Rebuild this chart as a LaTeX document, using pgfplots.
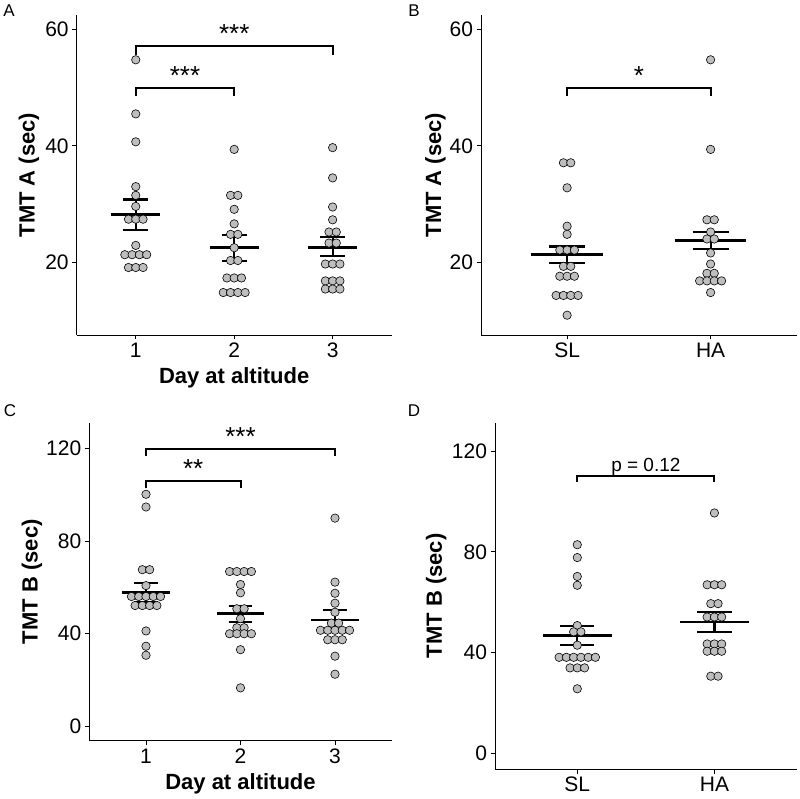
\documentclass[border=0pt]{standalone}
\usepackage{fontspec}
\setmainfont{Liberation Sans}
\usepackage{pgfplots}
\pgfplotsset{compat=1.18}
\definecolor{dotgray}{RGB}{190,190,190}
\pgfplotsset{
 panel/.style={
  scale only axis, axis lines*=left, axis line style={line width=0.9pt,-},
  tick align=outside, major tick length=4.5pt, tick style={line width=0.9pt, black},
  ticklabel style={font=\fontsize{21}{21}\selectfont},
  /pgf/number format/assume math mode=true,
  label style={font=\bfseries\fontsize{22}{22}\selectfont},
  clip=false,
 },
 dots/.style={only marks, mark=*, mark size=4.2pt, mark options={fill=dotgray, draw=black, line width=0.6pt}},
 msl/.style={black, line width=2.8pt},
 sel/.style={black, line width=2.2pt},
 br/.style={black, line width=2pt},
}
\tikzset{
 sigst/.style={anchor=base, yshift=3.5pt, font=\fontsize{26}{26}\selectfont},
 pval/.style={anchor=base, yshift=4pt, font=\fontsize{19}{19}\selectfont},
 plab/.style={font=\fontsize{17}{17}\selectfont},
}
\begin{document}
\begin{tikzpicture}[x=1pt,y=1pt]
\path[use as bounding box] (0,0) rectangle (800,798);
\node[plab] at (9,787) {A};
\node[plab] at (414,787) {B};
\node[plab] at (10,387) {C};
\node[plab] at (414,387) {D};

% ---------------- A
\begin{axis}[panel, at={(76.7pt,463pt)}, anchor=south west, width=315pt, height=320pt,
 xmin=0.4, xmax=3.6, ymin=7.5, ymax=62.5, xtick={1,2,3}, ytick={20,40,60},
 ylabel={TMT A (sec)}, xlabel={Day at altitude},
 ylabel style={at={(axis description cs:-0.152,0.5)}, anchor=center, rotate=0},
 xlabel style={at={(axis description cs:0.5,0)}, anchor=base, yshift=-49pt}]
\addplot[dots] coordinates {(1,54.8) (1,45.5) (1,40.7) (1,33.0) (1,31.5) (1,29.6) (0.926,27.4)(1,27.4)(1.074,27.4) (1,22.9) (0.889,21.3)(0.963,21.3)(1.037,21.3)(1.111,21.3) (0.926,19.1)(1,19.1)(1.074,19.1)};
\addplot[dots] coordinates {(2,39.4) (1.963,31.5)(2.037,31.5) (2,29.1) (2,26.6) (1.963,24.8)(2.037,24.8) (2,22.5) (1.963,20.3)(2.037,20.3) (1.926,17.3)(2,17.3)(2.074,17.3) (1.889,14.8)(1.963,14.8)(2.037,14.8)(2.111,14.8)};
\addplot[dots] coordinates {(3,39.7) (3,34.5) (3,29.5) (3,27.3) (2.963,25.2)(3.037,25.2) (2.963,23.3)(3.037,23.3) (2.926,19.7)(3,19.7)(3.074,19.7) (2.926,16.8)(3,16.8)(3.074,16.8) (2.926,15.4)(3,15.4)(3.074,15.4)};
% mean and SE
\addplot[msl] coordinates {(0.75,28.2) (1.25,28.2)};
\addplot[sel] coordinates {(1,25.6) (1,30.8)};
\addplot[sel] coordinates {(0.875,25.6) (1.125,25.6)};
\addplot[sel] coordinates {(0.875,30.8) (1.125,30.8)};
\addplot[msl] coordinates {(1.75,22.5) (2.25,22.5)};
\addplot[sel] coordinates {(2,20.2) (2,24.7)};
\addplot[sel] coordinates {(1.875,20.2) (2.125,20.2)};
\addplot[sel] coordinates {(1.875,24.7) (2.125,24.7)};
\addplot[msl] coordinates {(2.75,22.6) (3.25,22.6)};
\addplot[sel] coordinates {(3,21.1) (3,24.3)};
\addplot[sel] coordinates {(2.875,21.1) (3.125,21.1)};
\addplot[sel] coordinates {(2.875,24.3) (3.125,24.3)};
% brackets
\addplot[br] coordinates {(1,55.6) (1,57.1) (3,57.1) (3,55.6)};
\addplot[br] coordinates {(1,48.6) (1,50.0) (2,50.0) (2,48.6)};
\node[sigst] at (axis cs:2,57.1) {***};
\node[sigst] at (axis cs:1.5,50.0) {***};
\end{axis}

% ---------------- B
\begin{axis}[panel, at={(481pt,463pt)}, anchor=south west, width=315.7pt, height=320pt,
 xmin=0.4, xmax=2.6, ymin=7.5, ymax=62.5, xtick={1,2}, xticklabels={SL,HA}, ytick={20,40,60},
 ylabel={TMT A (sec)},
 ylabel style={at={(axis description cs:-0.144,0.5)}, anchor=center, rotate=0}]
\addplot[dots] coordinates {(0.9745,37.1)(1.0255,37.1) (1,32.8) (1,26.2) (1,24.8) (0.949,22.1)(1,22.1)(1.051,22.1) (0.9745,19.3)(1.0255,19.3) (0.949,17.6)(1,17.6)(1.051,17.6) (0.9235,14.3)(0.9745,14.3)(1.0255,14.3)(1.0765,14.3) (1,10.9)};
\addplot[dots] coordinates {(2,54.8) (2,39.4) (1.9745,27.3)(2.0255,27.3) (2,25.2) (1.9745,24.0)(2.0255,24.0) (2,21.6) (2,19.7) (1.9745,18.1)(2.0255,18.1) (1.9235,16.8)(1.9745,16.8)(2.0255,16.8)(2.0765,16.8) (2,14.8)};
\addplot[msl] coordinates {(0.75,21.3) (1.25,21.3)};
\addplot[sel] coordinates {(1,19.9) (1,22.7)};
\addplot[sel] coordinates {(0.875,19.9) (1.125,19.9)};
\addplot[sel] coordinates {(0.875,22.7) (1.125,22.7)};
\addplot[msl] coordinates {(1.75,23.8) (2.25,23.8)};
\addplot[sel] coordinates {(2,22.3) (2,25.2)};
\addplot[sel] coordinates {(1.875,22.3) (2.125,22.3)};
\addplot[sel] coordinates {(1.875,25.2) (2.125,25.2)};
\addplot[br] coordinates {(1,48.5) (1,50.0) (2,50.0) (2,48.5)};
\node[sigst] at (axis cs:1.5,50.0) {*};
\end{axis}

% ---------------- C
\begin{axis}[panel, at={(89.3pt,57.3pt)}, anchor=south west, width=302.4pt, height=318pt,
 xmin=0.4, xmax=3.6, ymin=-6.25, ymax=131.25, xtick={1,2,3}, ytick={0,40,80,120},
 ylabel={TMT B (sec)}, xlabel={Day at altitude},
 ylabel style={at={(axis description cs:-0.190,0.5)}, anchor=center, rotate=0},
 xlabel style={at={(axis description cs:0.5,0)}, anchor=base, yshift=-49pt}]
\addplot[dots] coordinates {(1,100.3) (1,94.8) (0.9615,67.7)(1.0385,67.7) (1,60.8) (0.846,56.1)(0.923,56.1)(1,56.1)(1.077,56.1)(1.154,56.1) (0.8845,52.2)(0.9615,52.2)(1.0385,52.2)(1.1155,52.2) (1,41.2) (1,34.6) (1,30.7)};
\addplot[dots] coordinates {(1.8845,66.9)(1.9615,66.9)(2.0385,66.9)(2.1155,66.9) (2,61.3) (2,57.7) (1.9615,50.8)(2.0385,50.8) (2,46.5) (1.9615,42.6)(2.0385,42.6) (1.8845,40.0)(1.9615,40.0)(2.0385,40.0)(2.1155,40.0) (2,33.1) (2,16.6)};
\addplot[dots] coordinates {(3,90.0) (3,62.3) (3,57.5) (3,53.2) (3,49.3) (2.9615,44.6)(3.0385,44.6) (2.846,41.5)(2.923,41.5)(3,41.5)(3.077,41.5)(3.154,41.5) (2.923,37.4)(3,37.4)(3.077,37.4) (3,30.3) (3,22.5)};
\addplot[msl] coordinates {(0.75,57.8) (1.25,57.8)};
\addplot[sel] coordinates {(1,53.5) (1,62.1)};
\addplot[sel] coordinates {(0.875,53.5) (1.125,53.5)};
\addplot[sel] coordinates {(0.875,62.1) (1.125,62.1)};
\addplot[msl] coordinates {(1.75,48.8) (2.25,48.8)};
\addplot[sel] coordinates {(2,45.2) (2,52.1)};
\addplot[sel] coordinates {(1.875,45.2) (2.125,45.2)};
\addplot[sel] coordinates {(1.875,52.1) (2.125,52.1)};
\addplot[msl] coordinates {(2.75,45.9) (3.25,45.9)};
\addplot[sel] coordinates {(3,41.6) (3,50.2)};
\addplot[sel] coordinates {(2.875,41.6) (3.125,41.6)};
\addplot[sel] coordinates {(2.875,50.2) (3.125,50.2)};
\addplot[br] coordinates {(1,116.8) (1,119.7) (3,119.7) (3,116.8)};
\addplot[br] coordinates {(1,102.9) (1,105.9) (2,105.9) (2,102.9)};
\node[sigst] at (axis cs:2,119.7) {***};
\node[sigst] at (axis cs:1.5,105.9) {**};
\end{axis}

% ---------------- D
\begin{axis}[panel, at={(495pt,29pt)}, anchor=south west, width=301.7pt, height=346.3pt,
 xmin=0.4, xmax=2.6, ymin=-6.25, ymax=131.25, xtick={1,2}, xticklabels={SL,HA}, ytick={0,40,80,120},
 ylabel={TMT B (sec)},
 ylabel style={at={(axis description cs:-0.195,0.5)}, anchor=center, rotate=0}]
\addplot[dots] coordinates {(1,82.8) (1,77.7) (1,70.2) (1,66.7) (1,50.7) (0.9735,48.2)(1.0265,48.2) (1,42.9) (0.8675,38.1)(0.9205,38.1)(0.9735,38.1)(1.0265,38.1)(1.0795,38.1)(1.1325,38.1) (0.947,33.9)(1,33.9)(1.053,33.9) (1,25.6)};
\addplot[dots] coordinates {(2,95.4) (1.947,66.9)(2,66.9)(2.053,66.9) (1.9735,59.4)(2.0265,59.4) (1.947,54.1)(2,54.1)(2.053,54.1) (1.947,43.4)(2,43.4)(2.053,43.4) (1.947,40.5)(2,40.5)(2.053,40.5) (1.9735,30.6)(2.0265,30.6)};
\addplot[msl] coordinates {(0.75,46.8) (1.25,46.8)};
\addplot[sel] coordinates {(1,42.9) (1,50.5)};
\addplot[sel] coordinates {(0.875,42.9) (1.125,42.9)};
\addplot[sel] coordinates {(0.875,50.5) (1.125,50.5)};
\addplot[msl] coordinates {(1.75,52.1) (2.25,52.1)};
\addplot[sel] coordinates {(2,48.2) (2,56.2)};
\addplot[sel] coordinates {(1.875,48.2) (2.125,48.2)};
\addplot[sel] coordinates {(1.875,56.2) (2.125,56.2)};
\addplot[br] coordinates {(1,107.9) (1,110.2) (2,110.2) (2,107.9)};
\node[pval] at (axis cs:1.5,110.2) {p = 0.12};
\end{axis}
\end{tikzpicture}
\end{document}
